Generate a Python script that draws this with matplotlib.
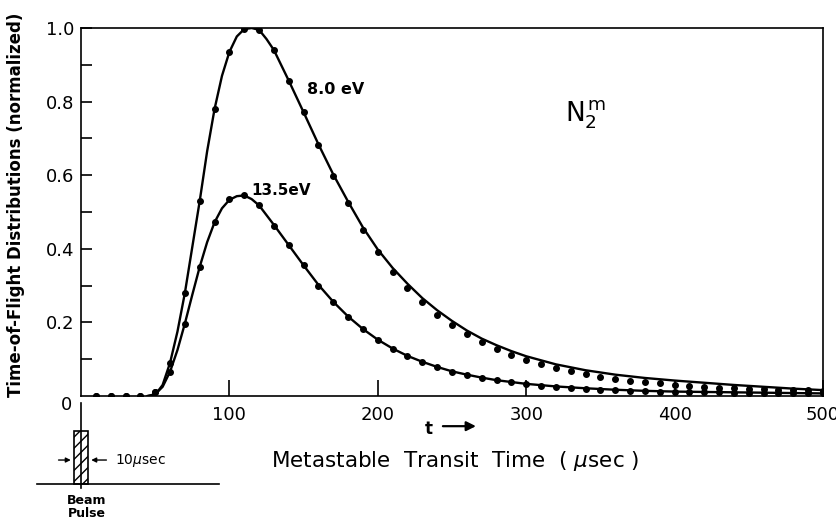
import matplotlib.pyplot as plt
from matplotlib.patches import Rectangle
import numpy as np

# measured points, one every 10 usec
t_dots = np.arange(10, 510, 10)
dots_8ev = [0, 0, 0, 0, 0.01, 0.09, 0.28, 0.53, 0.78, 0.935,
            0.997, 0.995, 0.94, 0.857, 0.771, 0.682, 0.599, 0.525, 0.451, 0.39,
            0.338, 0.293, 0.256, 0.221, 0.192, 0.168, 0.146, 0.127, 0.111, 0.097,
            0.086, 0.075, 0.067, 0.059, 0.052, 0.046, 0.042, 0.038, 0.034, 0.031,
            0.027, 0.025, 0.023, 0.021, 0.020, 0.018, 0.017, 0.016, 0.015, 0.013]
dots_135ev = [0, 0, 0, 0, 0.01, 0.066, 0.197, 0.351, 0.472, 0.536,
              0.545, 0.518, 0.463, 0.41, 0.355, 0.30, 0.255, 0.216, 0.181, 0.151,
              0.129, 0.108, 0.092, 0.078, 0.066, 0.058, 0.049, 0.043, 0.037, 0.033,
              0.027, 0.025, 0.021, 0.019, 0.016, 0.015, 0.014, 0.013, 0.012, 0.011,
              0.011, 0.010, 0.010, 0.009, 0.009, 0.009, 0.008, 0.008, 0.008, 0.007]

# calculated curves
t_fit_8 = [45, 50, 55, 60, 65, 70, 75, 80, 85, 90, 95, 100, 105, 110, 115, 120, 125, 130,
           140, 150, 160, 170, 180, 190, 200, 210, 220, 230, 240, 250, 260, 270, 280, 290,
           300, 320, 340, 360, 380, 400, 420, 440, 460, 480, 500]
fit_8ev = [0, 0.003, 0.03, 0.09, 0.175, 0.28, 0.405, 0.53, 0.665, 0.78, 0.87, 0.935, 0.977,
           0.997, 1.0, 0.995, 0.97, 0.94,
           0.857, 0.771, 0.684, 0.602, 0.528, 0.458, 0.398, 0.348, 0.305, 0.266, 0.233,
           0.204, 0.178, 0.156, 0.138, 0.122,
           0.108, 0.086, 0.070, 0.058, 0.049, 0.042, 0.036, 0.030, 0.025, 0.020, 0.016]
t_fit_135 = [45, 50, 55, 60, 65, 70, 75, 80, 85, 90, 95, 100, 105, 110, 115, 120, 130,
             140, 150, 160, 170, 180, 190, 200, 210, 220, 230, 240, 250, 260, 270, 280, 290,
             300, 320, 340, 360, 380, 400, 420, 440, 460, 480, 500]
fit_135ev = [0, 0.005, 0.025, 0.066, 0.125, 0.197, 0.275, 0.351, 0.418, 0.472, 0.51, 0.533,
             0.543, 0.545, 0.535, 0.518, 0.465,
             0.41, 0.355, 0.302, 0.256, 0.216, 0.182, 0.153, 0.129, 0.109, 0.093, 0.079,
             0.067, 0.058, 0.050, 0.043, 0.038,
             0.033, 0.026, 0.021, 0.017, 0.014, 0.012, 0.011, 0.010, 0.009, 0.008, 0.007]

plt.rcParams['font.family'] = 'DejaVu Sans'

fig = plt.figure(figsize=(8.36, 5.2), dpi=100)
ax = fig.add_axes([81/836, 124/520, 742/836, 368/520])

ax.plot(t_fit_8, fit_8ev, color='black', lw=1.7, zorder=3)
ax.plot(t_fit_135, fit_135ev, color='black', lw=1.7, zorder=3)
ax.plot(t_dots, dots_8ev, 'o', color='black', ms=4, zorder=4)
ax.plot(t_dots, dots_135ev, 'o', color='black', ms=4, zorder=4)

ax.set_xlim(0, 500)
ax.set_ylim(0, 1.0)
for s in ax.spines.values():
    s.set_linewidth(1.2)

ax.set_xticks([100, 200, 300, 400, 500])
ax.set_yticks([0.2, 0.4, 0.6, 0.8, 1.0])
ax.set_yticks(np.arange(0.1, 1.0, 0.2), minor=True)
ax.tick_params(axis='x', direction='in', length=11.5, width=1.2, pad=7, labelsize=13)
ax.tick_params(axis='y', which='both', direction='in', length=8, width=1.2, pad=5, labelsize=13)
ax.tick_params(axis='y', which='minor', length=8)

ax.text(-9.5, -0.025, '0', ha='center', va='center', fontsize=13, clip_on=False)

ax.text(152, 0.82, '8.0 eV', fontsize=11.5, fontweight='bold')
ax.text(115, 0.545, '13.5eV', fontsize=11, fontweight='bold')
ax.text(326, 0.745, r'$\mathregular{N_2^{\,m}}$', fontsize=19)

# axis titles
fig.text(16/836, 1 - 205/520, 'Time-of-Flight Distributions (normalized)',
         rotation=90, ha='center', va='center', fontsize=12, fontweight='bold')
fig.text(455/836, 1 - 461/520, r'Metastable  Transit  Time  ( $\mu$sec )',
         ha='center', va='center', fontsize=15.5)

# time arrow
ax.text(234, -0.09, 't', ha='center', va='center', fontsize=12, fontweight='bold')
ax.annotate('', xy=(268, -0.082), xytext=(242, -0.082), annotation_clip=False,
            arrowprops=dict(arrowstyle='-|>', color='black', lw=1.6, mutation_scale=14))

# beam pulse sketch below the origin
ax.plot([0, 0], [-0.02, -0.25], color='black', lw=1.2, clip_on=False)
ax.plot([-29.5, 93], [-0.239, -0.239], color='black', lw=1.2, clip_on=False)
ax.add_patch(Rectangle((-5, -0.239), 10, 0.145, facecolor='white', edgecolor='black',
                       hatch='///', lw=1.2, clip_on=False))
ax.annotate('', xy=(-5, -0.174), xytext=(-17, -0.174), annotation_clip=False,
            arrowprops=dict(arrowstyle='-|>', color='black', lw=1, mutation_scale=7))
ax.annotate('', xy=(5, -0.174), xytext=(19, -0.174), annotation_clip=False,
            arrowprops=dict(arrowstyle='-|>', color='black', lw=1, mutation_scale=7))
ax.text(23, -0.174, r'10$\mu$sec', ha='left', va='center', fontsize=10)
ax.text(4, -0.285, 'Beam', ha='center', va='center', fontsize=9, fontweight='bold')
ax.text(4, -0.32, 'Pulse', ha='center', va='center', fontsize=9, fontweight='bold')

fig.savefig('out.png', dpi=100)
